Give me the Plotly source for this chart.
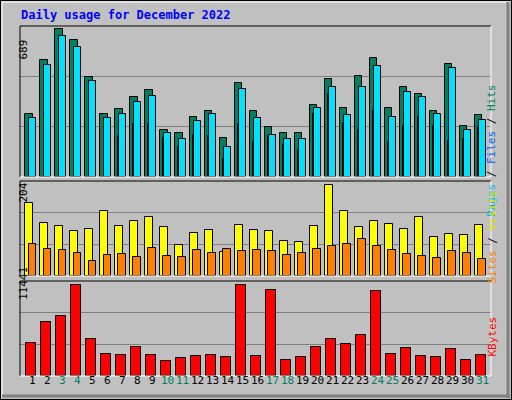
import plotly.graph_objects as go

days = list(range(1, 32))
weekend = [3, 4, 10, 11, 17, 18, 24, 25, 31]

hits = [296, 544, 689, 638, 465, 292, 315, 371, 404, 221, 203, 282, 310, 184, 437, 306,
        231, 207, 207, 334, 455, 320, 469, 553, 320, 418, 385, 310, 525, 240, 287]
files = [273, 521, 656, 605, 446, 273, 292, 348, 376, 207, 179, 259, 292, 142, 408, 273,
         198, 175, 175, 320, 418, 287, 418, 516, 282, 394, 371, 296, 507, 217, 268]
pages = [217, 437, 619, 563, 418, 263, 193, 245, 245, 184, 142, 198, 193, 86, 249, 165,
         189, 147, 128, 296, 385, 254, 217, 306, 165, 240, 282, 240, 170, 179, 231]
visits = [164, 118, 111, 100, 106, 144, 111, 122, 131, 109, 69, 95, 102, 53, 113, 102,
          100, 78, 75, 111, 204, 144, 109, 122, 115, 106, 131, 86, 93, 91, 113]
sites = [71, 60, 58, 51, 33, 47, 49, 42, 62, 44, 42, 58, 51, 60, 55, 58,
         55, 47, 51, 60, 67, 71, 82, 67, 58, 49, 44, 40, 55, 51, 38]
kbytes = [4176, 6807, 7558, 11441, 4677, 2798, 2673, 3675, 2673, 1921, 2297, 2547, 2673, 2422, 11441, 2547,
          10816, 2046, 2422, 3675, 4677, 4051, 5178, 10690, 2798, 3550, 2547, 2422, 3424, 2046, 2673]

W, H = 512, 400
line = dict(color="black", width=1)
fig = go.Figure()

def bar(y, color, offset, width, ax):
    fig.add_trace(go.Bar(x=days, y=y, marker=dict(color=color, line=line),
                         offset=offset, width=width, xaxis="x" + ax, yaxis="y" + ax,
                         showlegend=False))

bar(hits, "#008060", -0.15, 0.49, "")
bar(pages, "#0000E0", 0.07, 0.3, "")
bar(files, "#00E0FF", 0.11, 0.49, "")
bar(visits, "#FFFF00", -0.15, 0.55, "2")
bar(sites, "#FF8000", 0.07, 0.53, "2")
bar(kbytes, "#FF0000", -0.08, 0.68, "3")

def py(v):
    return 1 - v / H

xd = [20 / W, 491 / W]
xr = [0.5, 31.92]
panels = [("", 26, 177, 704), ("2", 181, 276, 212), ("3", 281, 376, 11900)]
layout = {}
for ax, top, bot, mx in panels:
    name = ax if ax else ""
    layout["xaxis" + name] = dict(domain=xd, range=xr, showticklabels=False, showgrid=False,
                                  zeroline=False, fixedrange=True, anchor="y" + name)
    layout["yaxis" + name] = dict(domain=[py(bot), py(top)], range=[0, mx], tickvals=[mx / 3, 2 * mx / 3],
                                  showticklabels=False, showgrid=True, gridcolor="#808080", gridwidth=1,
                                  zeroline=False, anchor="x" + name)
    # bevelled frame around the panel
    fig.add_shape(type="line", xref="paper", yref="paper", x0=xd[0], x1=xd[0], y0=py(bot), y1=py(top),
                  line=dict(color="black", width=1))
    fig.add_shape(type="line", xref="paper", yref="paper", x0=xd[0], x1=xd[1], y0=py(top), y1=py(top),
                  line=dict(color="black", width=1))
    fig.add_shape(type="line", xref="paper", yref="paper", x0=xd[1], x1=xd[1], y0=py(bot), y1=py(top),
                  line=dict(color="white", width=1))
    fig.add_shape(type="line", xref="paper", yref="paper", x0=xd[0], x1=xd[1], y0=py(bot), y1=py(bot),
                  line=dict(color="white", width=1))

# outer frame
fig.add_shape(type="rect", xref="paper", yref="paper", x0=0, x1=1, y0=0, y1=1,
              line=dict(color="black", width=2))
fig.add_shape(type="line", xref="paper", yref="paper", x0=2 / W, x1=1 - 2 / W, y0=1 - 2 / H, y1=1 - 2 / H,
              line=dict(color="white", width=1))
fig.add_shape(type="line", xref="paper", yref="paper", x0=2 / W, x1=2 / W, y0=2 / H, y1=1 - 2 / H,
              line=dict(color="white", width=1))
fig.add_shape(type="line", xref="paper", yref="paper", x0=1 - 4 / W, x1=1 - 4 / W, y0=2 / H, y1=1 - 2 / H,
              line=dict(color="#808080", width=3))
fig.add_shape(type="line", xref="paper", yref="paper", x0=2 / W, x1=1 - 2 / W, y0=4 / H, y1=4 / H,
              line=dict(color="#808080", width=3))

mono = "DejaVu Sans Mono"
ann = []
ann.append(dict(text="<b>Daily usage for December 2022</b>", x=19 / W, y=py(15), xref="paper", yref="paper",
                xanchor="left", yanchor="middle", showarrow=False, font=dict(family=mono, size=12, color="#0000FF")))
for lbl, yc in [("689", 38), ("204", 193), ("11441", 302)]:
    ann.append(dict(text=lbl, x=15 / W, y=py(yc), xref="paper", yref="paper", textangle=-90,
                    showarrow=False, font=dict(family=mono, size=11, color="black")))
ann.append(dict(text="<span style='color:#00C0E0'>Pages</span> / <span style='color:#0060FF'>Files</span> / "
                     "<span style='color:#008060'>Hits</span>",
                x=500 / W, y=py(82), xref="paper", yref="paper", textangle=-90, showarrow=False,
                font=dict(family=mono, size=11, color="black")))
ann.append(dict(text="<span style='color:#FF8000'>Sites</span> / <span style='color:#E0E000'>Visits</span>",
                x=500 / W, y=py(237), xref="paper", yref="paper", textangle=-90, showarrow=False,
                font=dict(family=mono, size=11, color="black")))
ann.append(dict(text="KBytes", x=500 / W, y=py(359), xref="paper", yref="paper", textangle=-90,
                showarrow=False, font=dict(family=mono, size=11, color="#FF0000")))
for d in days:
    ann.append(dict(text=str(d), x=d + 0.36, y=py(389), xref="x3", yref="paper", showarrow=False,
                    font=dict(family=mono, size=11, color="#008060" if d in weekend else "black")))

fig.update_layout(width=W, height=H, margin=dict(l=0, r=0, t=0, b=0), paper_bgcolor="#C0C0C0",
                  plot_bgcolor="#C0C0C0", barmode="overlay", bargap=0, annotations=ann, **layout)
fig.write_html("out.html", config={"displayModeBar": False},
               post_script="document.body.style.margin='0';document.body.style.overflow='hidden';")
